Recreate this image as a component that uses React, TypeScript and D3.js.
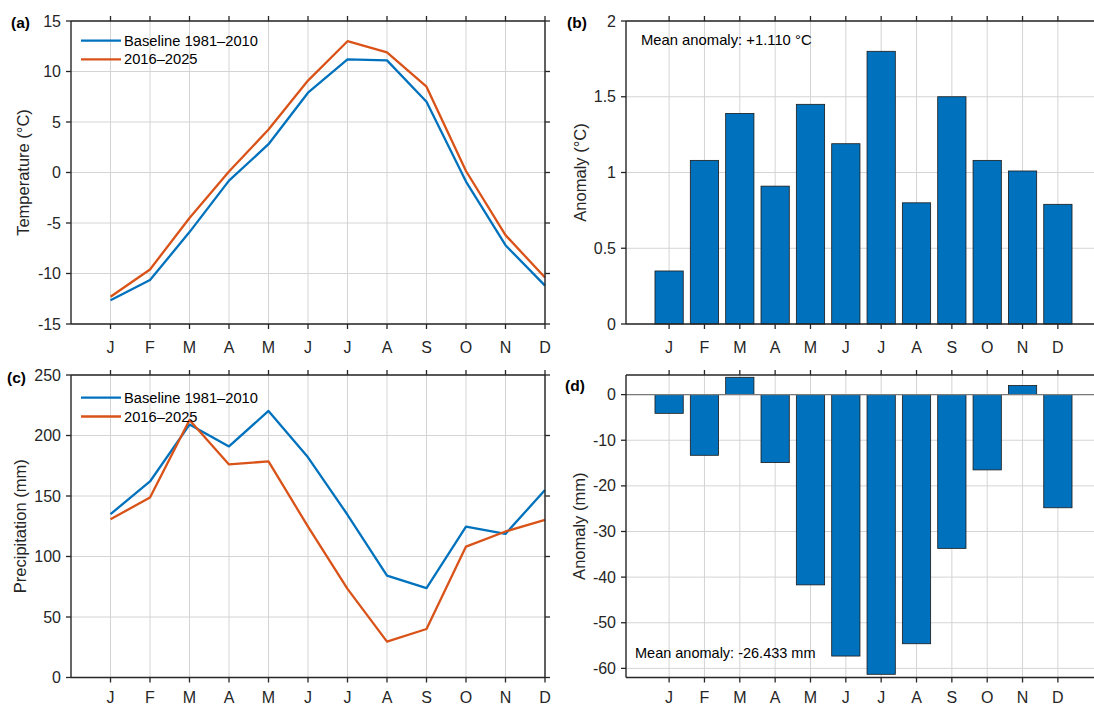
import React from "react";
import * as d3 from "d3";

const months = ["J", "F", "M", "A", "M", "J", "J", "A", "S", "O", "N", "D"];
const tempBaseline = [-12.65, -10.65, -5.9, -0.8, 2.8, 7.9, 11.2, 11.1, 7.0, -0.9, -7.2, -11.2];
const tempRecent = [-12.3, -9.6, -4.5, 0.1, 4.25, 9.1, 13.0, 11.9, 8.5, 0.15, -6.2, -10.4];
const tempAnomaly = [0.35, 1.08, 1.39, 0.91, 1.45, 1.19, 1.8, 0.8, 1.5, 1.08, 1.01, 0.79];
const precBaseline = [135, 162, 209, 191, 220.3, 182, 134.5, 84.2, 73.8, 124.7, 118.7, 155];
const precRecent = [130.8, 148.7, 212.8, 176.1, 178.6, 124.7, 73.2, 29.6, 40.1, 108.2, 120.7, 130.2];
const precAnomaly = [-4.1, -13.3, 3.8, -14.9, -41.7, -57.3, -61.3, -54.6, -33.7, -16.5, 2.0, -24.8];
const tempTicks = [-15, -10, -5, 0, 5, 10, 15];
const tempAnomTicks = [0, 0.5, 1, 1.5, 2];
const precTicks = [0, 50, 100, 150, 200, 250];
const precAnomTicks = [-60, -50, -40, -30, -20, -10, 0];
const seriesNames = ["Baseline 1981\u20132010", "2016\u20132025"];
const colors = ["#0072BD", "#D95319"];
const barColor = "#0072BD";

const FONT = "'Liberation Sans', Arial, Helvetica, sans-serif";
const AX = "#262626";
const GRID = "#d4d4d4";
const TICK = 5;

type Scale = d3.ScaleLinear<number, number>;

function Frame({ x, y, yTicks, fmt, label, labelX, tag, tagX, tagY, xLabelY, right = true }: {
  x: Scale; y: Scale; yTicks: number[]; fmt: (v: number) => string; label: string; labelX: number;
  tag: string; tagX: number; tagY: number; xLabelY: number; right?: boolean;
}) {
  const [x0, x1] = x.range();
  const [y0, y1] = y.range();
  const idx = d3.range(1, 13);
  return (
    <g fontFamily={FONT}>
      <line x1={x0} x2={x1} y1={y0} y2={y0} stroke={AX} strokeWidth={1.4} />
      <line x1={x0} x2={x1} y1={y1} y2={y1} stroke={AX} strokeWidth={1.4} />
      <line x1={x0} x2={x0} y1={y0} y2={y1} stroke={AX} strokeWidth={1.4} />
      {right && <line x1={x1} x2={x1} y1={y0} y2={y1} stroke={AX} strokeWidth={1.4} />}
      {idx.map((i) => (
        <g key={"xt" + i}>
          <line x1={x(i)} x2={x(i)} y1={y0} y2={y0 + TICK} stroke={AX} strokeWidth={1.3} />
          <line x1={x(i)} x2={x(i)} y1={y1} y2={y1 - TICK} stroke={AX} strokeWidth={1.3} />
          <text x={x(i)} y={xLabelY} textAnchor="middle" dominantBaseline="central" fontSize={16} fill={AX}>
            {months[i - 1]}
          </text>
        </g>
      ))}
      {yTicks.map((t) => (
        <g key={"yt" + t}>
          <line x1={x0} x2={x0 - TICK} y1={y(t)} y2={y(t)} stroke={AX} strokeWidth={1.3} />
          {right && <line x1={x1} x2={x1 + TICK} y1={y(t)} y2={y(t)} stroke={AX} strokeWidth={1.3} />}
          <text x={x0 - TICK - 5} y={y(t)} textAnchor="end" dominantBaseline="central" fontSize={16} fill={AX}>
            {fmt(t)}
          </text>
        </g>
      ))}
      <text
        transform={`translate(${labelX},${(y0 + y1) / 2}) rotate(-90)`}
        textAnchor="middle"
        dominantBaseline="central"
        fontSize={16.5}
        fill={AX}
      >
        {label}
      </text>
      <text x={tagX} y={tagY} dominantBaseline="central" fontSize={15.5} fontWeight="bold" fill="#000">
        {tag}
      </text>
    </g>
  );
}

function Grid({ x, y, yTicks }: { x: Scale; y: Scale; yTicks: number[] }) {
  const [x0, x1] = x.range();
  const [y0, y1] = y.range();
  return (
    <g>
      {d3.range(1, 13).map((i) => (
        <line key={"gx" + i} x1={x(i)} x2={x(i)} y1={y0} y2={y1} stroke={GRID} strokeWidth={1} />
      ))}
      {yTicks.map((t) => (
        <line key={"gy" + t} x1={x0} x2={x1} y1={y(t)} y2={y(t)} stroke={GRID} strokeWidth={1} />
      ))}
    </g>
  );
}

function LinePanel({ x, y, series, legendY }: { x: Scale; y: Scale; series: number[][]; legendY: number[] }) {
  const line = d3
    .line<number>()
    .x((_, i) => x(i + 1))
    .y((d) => y(d));
  return (
    <g>
      {series.map((s, k) => (
        <path key={k} d={line(s) || ""} fill="none" stroke={colors[k]} strokeWidth={2.3} strokeLinejoin="round" />
      ))}
      {seriesNames.map((n, k) => (
        <g key={n}>
          <line x1={81} x2={121} y1={legendY[k]} y2={legendY[k]} stroke={colors[k]} strokeWidth={2.3} />
          <text x={124} y={legendY[k]} dominantBaseline="central" fontSize={14.7} fontFamily={FONT} fill="#000">
            {n}
          </text>
        </g>
      ))}
    </g>
  );
}

function Bars({ x, y, values }: { x: Scale; y: Scale; values: number[] }) {
  const w = (x(2) - x(1)) * 0.8;
  return (
    <g>
      {values.map((v, i) => {
        const top = y(Math.max(0, v));
        const bot = y(Math.min(0, v));
        return (
          <rect
            key={i}
            x={x(i + 1) - w / 2}
            y={top}
            width={w}
            height={bot - top}
            fill={barColor}
            stroke="#1a1a1a"
            strokeWidth={0.8}
          />
        );
      })}
    </g>
  );
}

export default function App() {
  const xA = d3.scaleLinear().domain([0, 12]).range([71, 545]);
  const xB = d3.scaleLinear().domain([1 - 1.22, 12 + 1.22]).range([626, 1101]);
  const yA = d3.scaleLinear().domain([-15, 15]).range([324, 21]);
  const yB = d3.scaleLinear().domain([0, 2]).range([324, 21]);
  const yC = d3.scaleLinear().domain([0, 250]).range([677.5, 375]);
  const yD = d3.scaleLinear().domain([-62, 4.3]).range([677.5, 375]);
  const meanT = d3.mean(tempAnomaly) as number;
  const meanP = d3.mean(precAnomaly) as number;

  return (
    <div style={{ position: "absolute", left: 0, top: 0 }}>
      <svg width={1094} height={705} style={{ display: "block", background: "#fff" }}>
        {/* Panel a */}
        <Grid x={xA} y={yA} yTicks={tempTicks} />
        <LinePanel x={xA} y={yA} series={[tempBaseline, tempRecent]} legendY={[40.7, 59.3]} />
        <Frame x={xA} y={yA} yTicks={tempTicks} fmt={(v) => String(v)} label="Temperature (°C)" labelX={23}
          tag="(a)" tagX={11} tagY={22} xLabelY={347} />

        {/* Panel b */}
        <Grid x={xB} y={yB} yTicks={tempAnomTicks} />
        <Bars x={xB} y={yB} values={tempAnomaly} />
        <text x={641} y={40} dominantBaseline="central" fontSize={14.8} fontFamily={FONT} fill="#000">
          {`Mean anomaly: ${meanT >= 0 ? "+" : ""}1.110 °C`}
        </text>
        <Frame x={xB} y={yB} yTicks={tempAnomTicks} fmt={(v) => String(v)} label="Anomaly (°C)" labelX={580}
          tag="(b)" tagX={567} tagY={22} xLabelY={347} right={false} />

        {/* Panel c */}
        <Grid x={xA} y={yC} yTicks={precTicks} />
        <LinePanel x={xA} y={yC} series={[precBaseline, precRecent]} legendY={[397.7, 416.5]} />
        <Frame x={xA} y={yC} yTicks={precTicks} fmt={(v) => String(v)} label="Precipitation (mm)" labelX={20}
          tag="(c)" tagX={7} tagY={377} xLabelY={697} />

        {/* Panel d */}
        <Grid x={xB} y={yD} yTicks={precAnomTicks} />
        <Bars x={xB} y={yD} values={precAnomaly} />
        <line x1={626} x2={1101} y1={yD(0)} y2={yD(0)} stroke="#7a7a7a" strokeWidth={1.2} />
        <text x={635} y={653} dominantBaseline="central" fontSize={14.5} fontFamily={FONT} fill="#000">
          {`Mean anomaly: ${meanP < 0 ? "-" : "+"}26.433 mm`}
        </text>
        <Frame x={xB} y={yD} yTicks={precAnomTicks} fmt={(v) => String(v)} label="Anomaly (mm)" labelX={579}
          tag="(d)" tagX={565} tagY={385} xLabelY={697} right={false} />
      </svg>
    </div>
  );
}
